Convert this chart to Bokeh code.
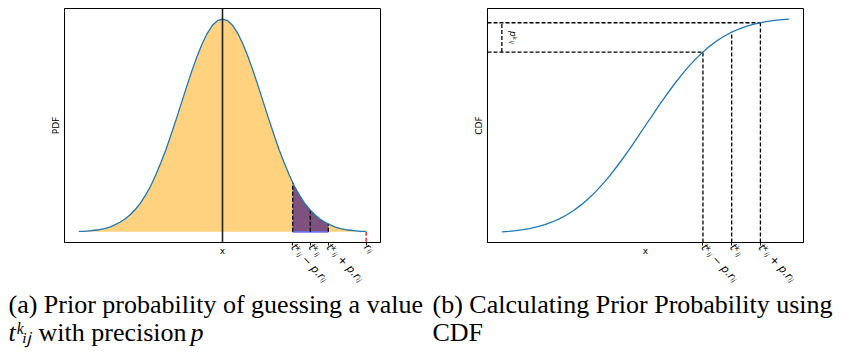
import numpy as np
from bokeh.plotting import figure
from bokeh.layouts import row, column
from bokeh.models import FixedTicker, Label, Range1d
from bokeh.core.properties import value
from bokeh.embed import file_html
from bokeh.resources import INLINE

# ---------------- data ----------------
# (a) normal PDF, read every 0.125
pdf_x = list(np.arange(-3.5, 3.5001, 0.125))
pdf_y = [0.001, 0.001, 0.002, 0.003, 0.004, 0.006, 0.009, 0.013, 0.018, 0.024,
         0.032, 0.042, 0.054, 0.069, 0.086, 0.107, 0.130, 0.155, 0.183, 0.212,
         0.242, 0.272, 0.301, 0.328, 0.352, 0.372, 0.387, 0.396, 0.399,
         0.396, 0.387, 0.372, 0.352, 0.328, 0.301, 0.272, 0.242, 0.212, 0.183,
         0.155, 0.130, 0.107, 0.086, 0.069, 0.054, 0.042, 0.032, 0.024, 0.018,
         0.013, 0.009, 0.006, 0.004, 0.003, 0.002, 0.001, 0.001]
pdf_ticks = [1.71, 2.14, 2.58]          # t-p.r, t, t+p.r
pdf_tick_heights = [0.092, 0.041, 0.015]
r_value = 3.5
pdf_tick_labels = ["tᵏᵢⱼ − p.rᵢⱼ", "tᵏᵢⱼ", "tᵏᵢⱼ + p.rᵢⱼ", "rᵢⱼ"]

# (b) CDF, read every 0.25
cdf_x = list(np.arange(-5.0, 5.0001, 0.25))
cdf_y = [0.0062, 0.0088, 0.0122, 0.0168, 0.0228, 0.0304, 0.0401, 0.0521, 0.0668,
         0.0846, 0.1056, 0.1303, 0.1587, 0.1908, 0.2266, 0.2660, 0.3085, 0.3538,
         0.4013, 0.4503, 0.5000, 0.5497, 0.5987, 0.6462, 0.6915, 0.7340, 0.7734,
         0.8092, 0.8413, 0.8697, 0.8944, 0.9154, 0.9332, 0.9479, 0.9599, 0.9696,
         0.9772, 0.9832, 0.9878, 0.9912, 0.9938]
cdf_ticks = [2.0, 3.0, 4.0]
cdf_tick_heights = [0.841, 0.933, 0.977]
cdf_tick_labels = ["tᵏᵢⱼ − p.rᵢⱼ", "tᵏᵢⱼ", "tᵏᵢⱼ + p.rᵢⱼ"]

caption_a = ["(a) Prior probability of guessing a value", "tᵏᵢⱼ", "with precision", "p"]
caption_b = ["(b) Calculating Prior Probability using", "CDF"]

# ---------------- styling helpers ----------------
SANS = "DejaVu Sans"
SERIF = "Liberation Serif"
BLUE = "#1f77b4"
DASH = "4 2"
TOP_H = 288      # height of the chart row
CAP_H = 64       # height of the caption row


def padded(lo, hi, frac=0.05):
    d = (hi - lo) * frac
    return lo - d, hi + d


def make_fig(width, left, right, xr, yr):
    p = figure(width=width, height=TOP_H, x_range=xr, y_range=yr,
               output_backend="svg", toolbar_location=None,
               min_border_left=left, min_border_right=right,
               min_border_top=8, min_border_bottom=TOP_H - 242)
    p.grid.visible = False
    p.outline_line_color = "black"
    p.outline_line_alpha = 1.0
    p.outline_line_width = 1
    p.background_fill_color = "white"
    p.border_fill_color = "white"
    for ax in (p.xaxis[0], p.yaxis[0]):
        ax.axis_line_color = "black"
        ax.axis_line_width = 1
        ax.minor_tick_line_color = None
        ax.major_tick_in = 0
        ax.axis_label_text_font = SANS
        ax.axis_label_text_font_size = "9px"
        ax.axis_label_text_font_style = "normal"
        ax.axis_label_text_color = "black"
    p.yaxis.ticker = FixedTicker(ticks=[])
    p.yaxis.major_tick_out = 0
    p.yaxis.major_label_text_font_size = "0px"
    p.yaxis.axis_label_standoff = 4
    p.xaxis.major_tick_out = 3
    p.xaxis.major_tick_line_color = "black"
    p.xaxis.major_label_orientation = -0.82
    p.xaxis.major_label_standoff = 0
    p.xaxis.major_label_text_font = SANS
    p.xaxis.major_label_text_font_size = "11px"
    p.xaxis.major_label_text_font_style = "italic"
    p.xaxis.major_label_text_color = "black"
    p.xaxis.axis_label = "x"
    p.xaxis.axis_label_standoff = -46
    return p


def caption_fig(width):
    # a plain canvas whose data units are pixels of the whole page (y grows downward)
    c = figure(width=width, height=CAP_H, x_range=Range1d(0, width),
               y_range=Range1d(TOP_H + CAP_H, TOP_H), output_backend="svg",
               toolbar_location=None, x_axis_type=None, y_axis_type=None,
               min_border=0)
    c.grid.visible = False
    c.outline_line_color = None
    c.background_fill_color = "white"
    c.border_fill_color = "white"
    return c


def cap_text(c, x, y, text, style="normal"):
    c.text(x=[x], y=[y], text=[text], text_font=value(SERIF), text_font_size="26px",
           text_font_style=style, text_color="black", text_align="left",
           text_baseline="alphabetic")

# ---------------- (a) PDF ----------------
xr1 = padded(min(pdf_x), max(pdf_x))
yr1 = padded(0.0, max(pdf_y))
p1 = make_fig(428, 64, 48, xr1, yr1)

p1.varea(x=pdf_x, y1=0, y2=pdf_y, fill_color="#FFD280", fill_alpha=1.0)
band_x = [pdf_ticks[0]] + [x for x in pdf_x if pdf_ticks[0] < x < pdf_ticks[2]] + [pdf_ticks[2]]
band_y = [pdf_tick_heights[0]] + [y for x, y in zip(pdf_x, pdf_y) if pdf_ticks[0] < x < pdf_ticks[2]] + [pdf_tick_heights[2]]
p1.varea(x=band_x, y1=0, y2=band_y, fill_color="#7E517E", fill_alpha=1.0)
p1.line(x=[pdf_ticks[0], pdf_ticks[2]], y=[0, 0], line_color="#6C6CEA", line_width=1.6)
p1.segment(x0=pdf_ticks, y0=[0] * 3, x1=pdf_ticks, y1=pdf_tick_heights,
           line_color="black", line_width=1.3, line_dash=DASH)
p1.segment(x0=[r_value], y0=[0], x1=[r_value], y1=[yr1[0]],
           line_color="red", line_width=1.3, line_dash=DASH)
p1.line(x=pdf_x, y=pdf_y, line_color=BLUE, line_width=1.3)
p1.segment(x0=[0], y0=[yr1[0]], x1=[0], y1=[yr1[1]], line_color="#222222", line_width=1.6)

p1.xaxis.ticker = FixedTicker(ticks=pdf_ticks + [r_value])
p1.xaxis.major_label_overrides = {float(t): s for t, s in zip(pdf_ticks + [r_value], pdf_tick_labels)}
p1.yaxis.axis_label = "PDF"

# ---------------- (b) CDF ----------------
xr2 = padded(min(cdf_x), max(cdf_x))
yr2 = padded(min(cdf_y), max(cdf_y))
p2 = make_fig(420, 59, 45, xr2, yr2)

p2.segment(x0=cdf_ticks, y0=[yr2[0]] * 3, x1=cdf_ticks, y1=cdf_tick_heights,
           line_color="black", line_width=1.3, line_dash=DASH)
p2.segment(x0=[xr2[0], xr2[0]], y0=[cdf_tick_heights[0], cdf_tick_heights[2]],
           x1=[cdf_ticks[0], cdf_ticks[2]], y1=[cdf_tick_heights[0], cdf_tick_heights[2]],
           line_color="black", line_width=1.3, line_dash=DASH)
p2.segment(x0=[cdf_x[0]], y0=[cdf_tick_heights[0]], x1=[cdf_x[0]], y1=[cdf_tick_heights[2]],
           line_color="black", line_width=1.3, line_dash=DASH)
p2.line(x=cdf_x, y=cdf_y, line_color=BLUE, line_width=1.3)
p2.add_layout(Label(x=cdf_x[0] + 0.4, y=(cdf_tick_heights[0] + cdf_tick_heights[2]) / 2,
                    text="pᵏᵢⱼ", text_font=SANS, text_font_size="9px",
                    text_font_style="italic", angle=-np.pi / 2, text_color="black",
                    text_align="center", text_baseline="middle"))

p2.xaxis.ticker = FixedTicker(ticks=cdf_ticks)
p2.xaxis.major_label_overrides = {float(t): s for t, s in zip(cdf_ticks, cdf_tick_labels)}
p2.yaxis.axis_label = "CDF"

# ---------------- captions ----------------
c1 = caption_fig(428)
cap_text(c1, 8, 304, caption_a[0])
cap_text(c1, 8, 332, caption_a[1], style="italic")
cap_text(c1, 38, 332, caption_a[2])
cap_text(c1, 190, 332, caption_a[3], style="italic")

c2 = caption_fig(420)
cap_text(c2, 4, 304, caption_b[0])
cap_text(c2, 4, 332, caption_b[1])

layout = column(row(p1, p2, spacing=0), row(c1, c2, spacing=0), spacing=0)
open("out.html", "w").write(file_html(layout, INLINE))
